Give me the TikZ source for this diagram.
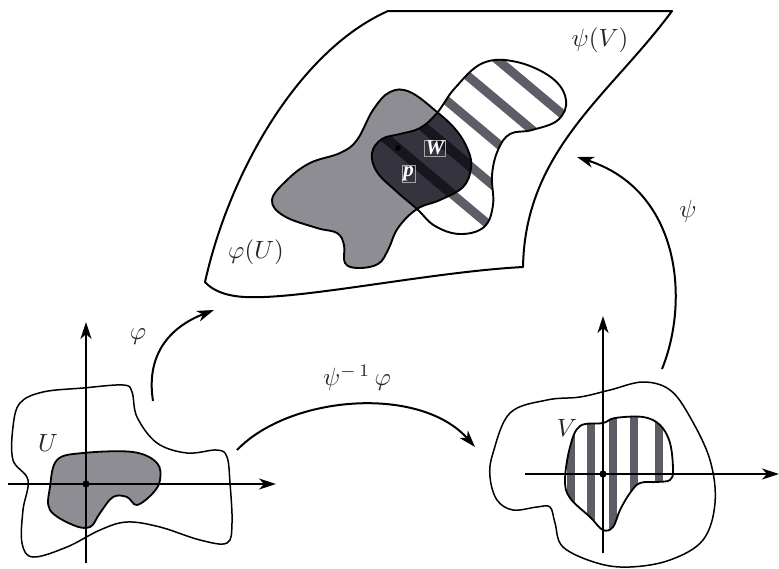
\documentclass[tikz,border=0pt]{standalone}
\usepackage{fontspec}
\newfontfamily\ptfont{Liberation Serif}
\usetikzlibrary{arrows.meta,calc}

\definecolor{regiongray}{HTML}{8F8D94}
\definecolor{stripegray}{HTML}{5E5D67}
\definecolor{overlapdark}{HTML}{34333E}
\definecolor{overlapstripe}{HTML}{17161E}

% closed outlines used more than once (fill, clip, draw)
\def\regionPhiU{plot[smooth cycle,tension=0.65] coordinates {(272,200) (287,180) (310,163) (340,153) (357,140) (373,110) (390,92) (410,92) (437,112) (456,130) (468,150) (471,168) (463,187) (440,200) (417,209) (398,228) (388,250) (378,264) (358,268) (345,263) (344,245) (337,233) (317,228) (284,216)}}
\def\regionPsiV{plot[smooth cycle,tension=0.65] coordinates {(417,209) (396,191) (377,172) (372,153) (382,139) (400,134) (420,128) (437,113) (455,88) (483,63) (517,62) (552,78) (566,100) (558,120) (532,130) (510,134) (498,150) (492,175) (493,205) (484,227) (460,234) (435,226)}}
\def\chartUouter{plot[smooth cycle,tension=0.6] coordinates {(13,427) (20,403) (43,392) (83,388) (123,385) (132,392) (137,417) (157,443) (187,453) (217,450) (227,457) (230,483) (232,523) (227,543) (200,540) (160,527) (127,522) (100,530) (67,547) (33,557) (22,543) (23,510) (28,480) (13,460)}}
\def\chartUinner{plot[smooth cycle,tension=0.6] coordinates {(57,460) (83,453) (133,452) (157,463) (160,480) (153,493) (137,505) (127,497) (113,497) (100,513) (90,527) (73,525) (50,510) (50,487)}}
\def\chartVouter{plot[smooth cycle,tension=0.6] coordinates {(493,453) (510,413) (547,400) (580,397) (610,390) (643,382) (670,390) (690,417) (710,460) (715,503) (703,540) (670,560) (630,567) (597,563) (563,547) (555,523) (550,507) (537,507) (513,510) (497,500) (490,477)}}
\def\chartVinner{plot[smooth cycle,tension=0.6] coordinates {(580,426) (603,423) (615,418) (643,417) (660,425) (670,443) (673,470) (670,480) (657,482) (640,483) (630,493) (620,510) (613,527) (603,530) (590,517) (570,498) (565,480) (570,447)}}

\tikzset{
  sheet/.style={line width=2pt, line join=round},
  blobline/.style={line width=1.9pt},
  chartline/.style={line width=1.5pt},
  tipstyle/.style={-{Stealth[length=17pt,width=11pt,inset=5pt]}},
  axisline/.style={line width=2pt, tipstyle},
  maparrow/.style={line width=2pt, tipstyle},
  lbl/.style={scale=2.5, text=black!85, inner sep=0pt},
  ptlbl/.style={font=\ptfont\bfseries\itshape, scale=2.1, text=white, draw=white!65!black, line width=0.3pt, inner sep=0.6pt},
}

\begin{document}
\begin{tikzpicture}[x=1pt,y=-1pt]
\useasboundingbox (0,0) rectangle (779,568);

% ---------- upper sheet ----------
\draw[sheet] (388,11) -- (672,11)
  .. controls (610,95) and (525,150) .. (523,267)
  .. controls (430,272) and (300,300) .. (245,297)
  .. controls (225,296) and (212,290) .. (205,282)
  .. controls (230,170) and (300,50) .. (388,11) -- cycle;

% phi(U): plain gray
\fill[regiongray] \regionPhiU;

% psi(V): diagonal stripes
\begin{scope}
  \clip \regionPsiV;
  \foreach \s in {-274,-242.5,-210,-175,-142}
    \draw[line width=9pt, stripegray]
      (340,{(\s+0.6428*340)/0.7660}) -- (600,{(\s+0.6428*600)/0.7660});
\end{scope}

% overlap W
\begin{scope}
  \clip \regionPsiV;
  \clip \regionPhiU;
  \fill[overlapdark] (330,80) rectangle (500,240);
  \foreach \s in {-175,-142}
    \draw[line width=10pt, overlapstripe]
      (340,{(\s+0.6428*340)/0.7660}) -- (600,{(\s+0.6428*600)/0.7660});
\end{scope}

\draw[blobline] \regionPhiU;
\draw[blobline] \regionPsiV;

\fill (398,148) circle (2.8);
\node[ptlbl] (wlbl) at (435,148) {W\hspace{2pt}};
\node[ptlbl] (plbl) at (408.5,174) {p};

\node[lbl] (psiV) at (600,40) {$\psi(V)$};
\node[lbl] (phiU) at (256,252) {$\varphi(U)$};

% ---------- left chart ----------
\draw[chartline] \chartUouter;
\filldraw[fill=regiongray, line width=1.8pt] \chartUinner;
\coordinate (uo) at (86,484);
\coordinate (uxl) at (8,484);
\coordinate (uxr) at (276,484);
\coordinate (uyb) at (86,563);
\coordinate (uyt) at (86,322);
\draw[axisline] (uxl) -- (uxr);
\draw[axisline] (uyb) -- (uyt);
\fill (uo) circle (3.6);
\node[lbl] (ulbl) at (48,443) {$U$};

% ---------- right chart ----------
\draw[chartline] \chartVouter;
\begin{scope}
  \clip \chartVinner;
  \foreach \xx in {571,591,612.5,634,658.5}
    \draw[line width=8pt, stripegray] (\xx,400) -- (\xx,540);
\end{scope}
\draw[line width=1.8pt] \chartVinner;
\coordinate (vo) at (603,474);
\coordinate (vxl) at (525,474);
\coordinate (vxr) at (779,474);
\coordinate (vyb) at (603,553);
\coordinate (vyt) at (603,316);
\draw[axisline] (vxl) -- (vxr);
\draw[axisline] (vyb) -- (vyt);
\fill (vo) circle (3.6);
\node[lbl] (vlbl) at (567,428) {$V$};

% ---------- maps ----------
\coordinate (phiS) at (153,401);
\coordinate (phiE) at (214,310);
\draw[maparrow] (phiS) .. controls (145,350) and (175,325) .. (phiE);
\node[lbl] (phiL) at (138,337) {$\varphi$};

\coordinate (trS) at (237,450);
\coordinate (trE) at (475,447);
\draw[maparrow] (trS) .. controls (290,395) and (420,385) .. (trE);
\node[lbl] (trL) at (357,378) {$\psi^{-\,1}\,\varphi$};

\coordinate (psiS) at (662,369);
\coordinate (psiE) at (577,157);
\draw[maparrow] (psiS) .. controls (690,300) and (680,190) .. (psiE);
\node[lbl] (psiL) at (688,211) {$\psi$};
\end{tikzpicture}
\end{document}
